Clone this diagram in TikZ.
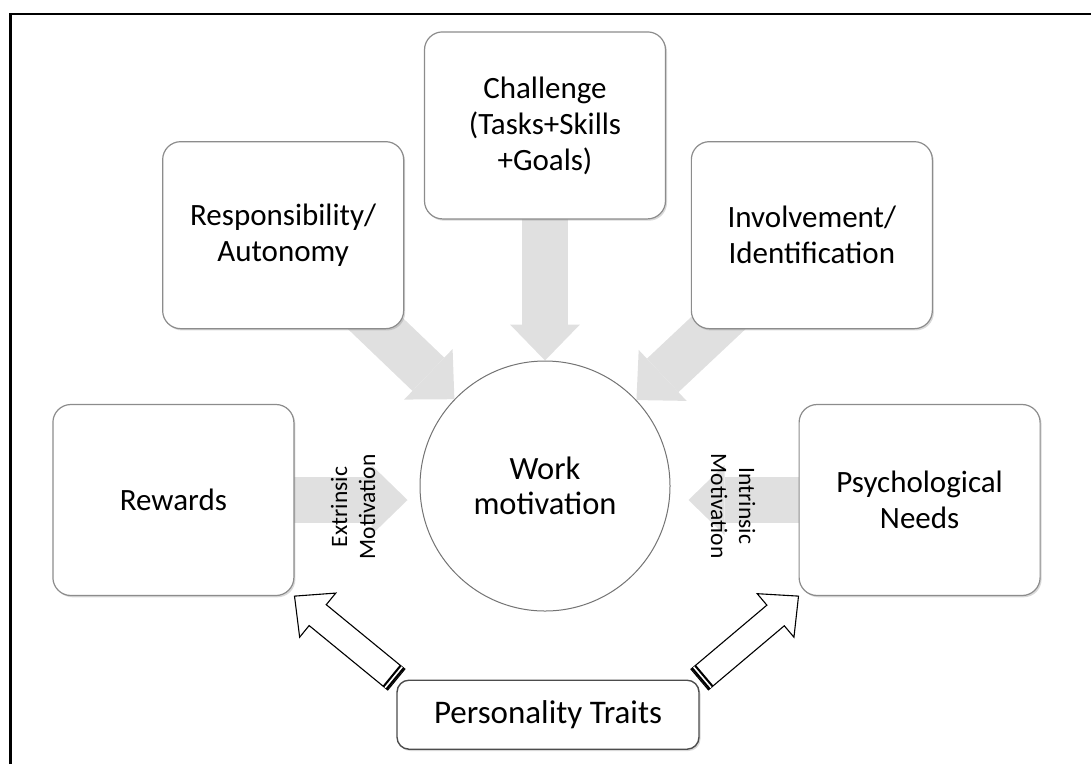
\documentclass[tikz,border=0pt]{standalone}
\usepackage{fontspec}
\setmainfont{Carlito}
\usepackage{tikz}
\usetikzlibrary{shapes.geometric, arrows.meta, positioning, calc, backgrounds, shadows}
\tikzstyle{factor} = [rectangle, rounded corners=18pt, minimum width=241pt, minimum height=187pt, align=center, draw=black!45, line width=1.2pt, fill=white, drop shadow={shadow xshift=1.5pt, shadow yshift=-1.8pt, opacity=0.3}, font=\fontsize{31}{36}\selectfont]
\tikzstyle{hub} = [circle, minimum size=250pt, align=center, draw=black!55, line width=1pt, fill=white, font=\fontsize{32.5}{35}\selectfont]
\tikzstyle{trait} = [rectangle, rounded corners=12pt, minimum width=302pt, minimum height=69pt, draw=black!70, line width=1.4pt, fill=white, drop shadow={shadow xshift=1.5pt, shadow yshift=-1.8pt, opacity=0.3}, font=\fontsize{33}{36}\selectfont]
\tikzstyle{push} = [line width=46pt, draw=black!12, -{Triangle[length=36pt, width=70pt, line width=0pt]}]
\tikzstyle{hollow} = [draw=black, fill=white, line width=1.1pt, to path={($(\tikztotarget)!30pt!(\tikztostart)$) coordinate (hb)
    ($(\tikztostart)!13.5pt!90:(\tikztotarget)$) -- ($(hb)!13.5pt!90:(\tikztotarget)$) -- ($(hb)!28.5pt!90:(\tikztotarget)$)
    -- (\tikztotarget) -- ($(hb)!28.5pt!-90:(\tikztotarget)$) -- ($(hb)!13.5pt!-90:(\tikztotarget)$)
    -- ($(\tikztostart)!13.5pt!-90:(\tikztotarget)$) -- cycle}]
\tikzstyle{band} = [draw=black, line width=2.2pt, double=white, double distance=1.6pt, to path={($(\tikztostart)!3.5pt!(\tikztotarget)$) coordinate (tb)
    ($(tb)!13.5pt!90:(\tikztotarget)$) -- ($(tb)!13.5pt!-90:(\tikztotarget)$)}]
\tikzstyle{lbl} = [align=center, inner sep=0pt, font=\fontsize{23.5}{28}\selectfont]

\begin{document}
\begin{tikzpicture}[x=1pt, y=-1pt]
    \useasboundingbox (0,0) rectangle (1091,764);
    \draw [line width=2.5pt] (10.7,764) -- (10.7,13.8) -- (1091,13.8);

    % Hub
    \node (work) [hub] at (545,486) {Work\\motivation};

    % Top row
    \node (chal) [factor, above=141pt of work] {Challenge\\(Tasks+Skills\\+Goals)};
    \node (resp) [factor, above left=68pt and 52pt of work] {Responsibility/\\Autonomy};
    \node (inv) [factor, above right=68pt and 57pt of work] {Involvement/\\Identification};

    % Side boxes
    \node (rew) [factor, minimum height=191pt, left=125pt of work, yshift=-14pt] {Rewards};
    \node (psy) [factor, minimum height=191pt, right=128pt of work, yshift=-14pt] {Psychological\\Needs};

    % Bottom
    \node (pers) [trait, below=68pt of work, xshift=3pt] {Personality Traits};

    % Arrows
    \begin{scope}[on background layer]
        \draw [push] (chal.center) -- (work);
        \draw [push] (resp.center) -- (work);
        \draw [push] (inv.center) -- (work);
        \draw [push, shorten >=12pt] (rew.center) -- (rew -| work.west);
        \draw [push, shorten >=18pt] (psy.center) -- (psy -| work.east);
    \end{scope}
    \node (extr) [lbl, rotate=90] at (353,507) {Extrinsic\\Motivation};
    \node (intr) [lbl, rotate=-90] at (733,506) {Intrinsic\\Motivation};

    \draw [hollow] (pers.north west) to (rew.south east);
    \draw [hollow] (pers.north east) to (psy.south west);
    \draw [band] (pers.north west) to (rew.south east);
    \draw [band] (pers.north east) to (psy.south west);
\end{tikzpicture}
\end{document}
